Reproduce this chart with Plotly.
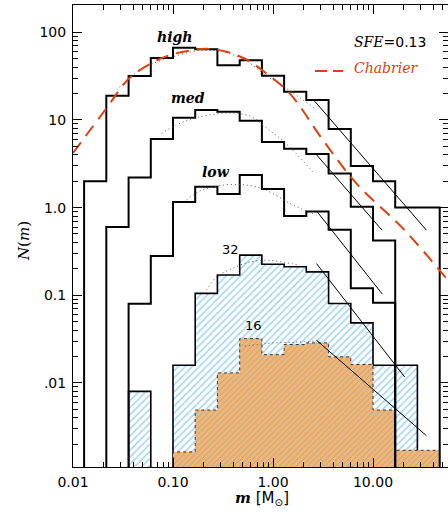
import plotly.graph_objects as go

# ---------------- data ----------------
# bin edges in log10(m / Msun)
log_edges = [-1.889, -1.667, -1.444, -1.222, -1.0, -0.778, -0.556, -0.333,
             -0.111, 0.111, 0.333, 0.556, 0.778, 1.0, 1.222, 1.444, 1.667]

N_high = [2.0, 18.9, 31.7, 51, 66.7, 64, 42, 47.9, 32, 21, 16.9, 7.9, 2.98, 2.0, 1.0, 1.0]
N_med = [None, 0.6, 2.2, 6.05, 10.6, 13.0, 12.4, 9.8, 5.6, 4.7, 4.08, 2.45, 1.02, 0.42, None, None]
N_low = [None, None, 0.08, 0.28, 1.16, 1.73, 1.43, 2.35, 1.63, 0.8, 0.9, 0.56, 0.12, 0.082, None, None]
N_32 = [None, None, 0.008, None, 0.0159, 0.105, 0.17, 0.287, 0.226, 0.211, 0.185, 0.0805,
        0.0484, 0.0159, 0.0159, None]
N_16 = [None, None, None, None, 0.00163, 0.0049, 0.013, 0.032, 0.021, 0.0274, 0.0286, 0.0198,
        0.0162, 0.0049, 0.0017, 0.0017]

# dotted (fitted) curves
fit_high_m = [0.0272, 0.0398, 0.0585, 0.1, 0.185, 0.321, 0.521, 0.865, 1.34, 2.6]
fit_high_N = [21.9, 32.6, 42.4, 52.7, 62, 59.6, 48.3, 31.7, 23.1, 13.6]
fit_med_m = [0.0766, 0.108, 0.158, 0.233, 0.369, 0.585, 0.865, 1.47, 2.61]
fit_med_N = [7.03, 8.75, 10.4, 11.4, 12.0, 11.1, 8.1, 4.9, 2.41]
fit_low_m = [0.136, 0.185, 0.272, 0.431, 0.631, 0.859, 1.47, 2.72]
fit_low_N = [1.22, 1.54, 1.76, 1.84, 1.76, 1.58, 1.12, 0.82]
fit_32_m = [0.216, 0.272, 0.398, 0.585, 0.859, 1.26, 1.85]
fit_32_N = [0.114, 0.161, 0.204, 0.239, 0.251, 0.239, 0.221]
fit_16_m = [0.521, 0.927, 1.65, 2.55]
fit_16_N = [0.0262, 0.0284, 0.0291, 0.0299]

# Chabrier IMF (red dashed)
chab_m = [0.01, 0.0219, 0.0363, 0.0608, 0.0927, 0.158, 0.216, 0.342, 0.542, 0.859,
          1.47, 3.16, 6.82, 20.7, 55.8]
chab_N = [4.2, 13.9, 29.8, 44.5, 55, 62.8, 65, 60, 49, 34, 20.1, 5.9, 1.89, 0.553, 0.149]

# high-mass power-law slopes (thin black lines)
slopes = {
    "high": ([2.55, 34.2], [16.9, 0.553]),
    "med": ([2.65, 12.3], [4.16, 0.553]),
    "low": ([2.72, 12.4], [0.918, 0.103]),
    "32": ([2.72, 20.7], [0.23, 0.0117]),
    "16": ([2.72, 34.2], [0.0307, 0.0025]),
}

x_tickvals = [0.01, 0.1, 1, 10]
x_ticktext = ["0.01", "0.10", "1.00", "10.00"]
y_tickvals = [0.01, 0.1, 1, 10, 100]
y_ticktext = [".01", "0.1", "1.0", "10", "100"]

# ---------------- helpers ----------------
edges = [10 ** e for e in log_edges]
FLOOR = 1e-5  # below visible range, clipped


def step_poly(vals):
    xs, ys = [], []
    i = 0
    n = len(vals)
    while i < n:
        if vals[i] is None:
            i += 1
            continue
        xs.append(edges[i]); ys.append(FLOOR)
        while i < n and vals[i] is not None:
            xs += [edges[i], edges[i + 1]]
            ys += [vals[i], vals[i]]
            i += 1
        xs.append(edges[i]); ys.append(FLOOR)
        xs.append(None); ys.append(None)
    return xs, ys


fig = go.Figure()

# filled histograms
x32, y32 = step_poly(N_32)
fig.add_trace(go.Scatter(x=x32, y=y32, mode="lines", fill="toself",
                         fillcolor="white",
                         fillpattern=dict(shape="/", fgcolor="#45acec", bgcolor="white",
                                          size=5, solidity=0.32),
                         line=dict(color="black", width=1.6), hoverinfo="skip"))
x16, y16 = step_poly(N_16)
fig.add_trace(go.Scatter(x=x16, y=y16, mode="lines", fill="toself",
                         fillpattern=dict(shape="/", fgcolor="#4aa6e4", bgcolor="#fdb46a",
                                          size=4, solidity=0.25),
                         line=dict(color="#333333", width=1, dash="dot"), hoverinfo="skip"))

# outline histograms
for vals in (N_high, N_med, N_low):
    xs, ys = step_poly(vals)
    fig.add_trace(go.Scatter(x=xs, y=ys, mode="lines",
                             line=dict(color="black", width=2), hoverinfo="skip"))

# dotted fits
for mm, nn in ((fit_high_m, fit_high_N), (fit_med_m, fit_med_N), (fit_low_m, fit_low_N),
               (fit_32_m, fit_32_N), (fit_16_m, fit_16_N)):
    fig.add_trace(go.Scatter(x=mm, y=nn, mode="lines", line_shape="spline",
                             line=dict(color="#555555", width=1, dash="1px,3px"),
                             hoverinfo="skip"))

# slopes
for key, (mm, nn) in slopes.items():
    fig.add_trace(go.Scatter(x=mm, y=nn, mode="lines",
                             line=dict(color="black", width=1), hoverinfo="skip"))

# Chabrier
fig.add_trace(go.Scatter(x=chab_m, y=chab_N, mode="lines", line_shape="spline",
                         line=dict(color="#e0400c", width=2, dash="13px,8px"),
                         hoverinfo="skip"))

# ---------------- layout ----------------
L, T, W, H = 73, 5, 375, 462


def px(x):
    return (x - L) / W


def py(y):
    return (T + H - y) / H


x_minor = [k * 10 ** d for d in (-2, -1, 0, 1) for k in range(2, 10) if k * 10 ** d < 56]
y_minor = [k * 10 ** d for d in (-3, -2, -1, 0, 1, 2) for k in range(2, 10) if k * 10 ** d < 205]

tickfont = dict(family="DejaVu Sans", size=14, color="black")
axis_common = dict(type="log", showgrid=False, zeroline=False, showline=True,
                   linecolor="black", linewidth=1, mirror="allticks", ticks="inside",
                   ticklen=9, tickwidth=1, tickcolor="black", tickfont=tickfont)

fig.update_layout(
    width=448, height=518,
    margin=dict(l=L, r=448 - L - W, t=T, b=518 - T - H),
    paper_bgcolor="white", plot_bgcolor="white",
    showlegend=False,
    xaxis=dict(range=[-2, 1.75], tickvals=x_tickvals, ticktext=x_ticktext,
               ticklabelstandoff=2,
               minor=dict(tickvals=x_minor, ticks="inside", ticklen=5, tickwidth=1,
                          tickcolor="black", showgrid=False),
               **axis_common),
    yaxis=dict(range=[-2.96, 2.312], tickvals=y_tickvals, ticktext=y_ticktext,
               ticklabelstandoff=3,
               minor=dict(tickvals=y_minor, ticks="inside", ticklen=5, tickwidth=1,
                          tickcolor="black", showgrid=False),
               **axis_common),
)

serif_it = dict(family="DejaVu Serif", size=14, color="black")
ann = [
    ("<b><i>high</i></b>", 174, 37, serif_it),
    ("<b><i>med</i></b>", 188, 98, serif_it),
    ("<b><i>low</i></b>", 216, 172, serif_it),
    ("32", 230, 249, dict(family="DejaVu Sans", size=13, color="black")),
    ("16", 253, 325, dict(family="DejaVu Sans", size=13, color="black")),
]
for text, x, y, f in ann:
    fig.add_annotation(text=text, x=px(x), y=py(y), xref="paper", yref="paper",
                       showarrow=False, xanchor="center", yanchor="middle", font=f)

fig.add_annotation(
    text="<i><span style='font-family:DejaVu Serif'>SFE</span></i>=0.13",
    x=px(390), y=py(42), xref="paper", yref="paper", showarrow=False,
    xanchor="center", yanchor="middle",
    font=dict(family="DejaVu Sans", size=14, color="black"))
fig.add_annotation(
    text="<i>Chabrier</i>", x=px(386), y=py(68), xref="paper", yref="paper",
    showarrow=False, xanchor="center", yanchor="middle",
    font=dict(family="DejaVu Serif", size=14, color="#e0400c"))
fig.add_shape(type="line", xref="paper", yref="paper", x0=px(315), x1=px(343),
              y0=py(71), y1=py(71), line=dict(color="#e0400c", width=2, dash="12px,6px"))

# axis titles
fig.add_annotation(
    text="<b><i><span style='font-family:DejaVu Serif'>m</span></i></b> [M<sub>⊙</sub>]",
    x=px(262), y=py(498), xref="paper", yref="paper", showarrow=False,
    xanchor="center", yanchor="middle",
    font=dict(family="DejaVu Sans", size=15, color="black"))
fig.add_annotation(
    text="<i>N</i>(<i>m</i>)", x=px(24), y=py(241), xref="paper", yref="paper",
    showarrow=False, xanchor="center", yanchor="middle", textangle=-90,
    font=dict(family="DejaVu Serif", size=15, color="black"))

fig.write_html("out.html")
